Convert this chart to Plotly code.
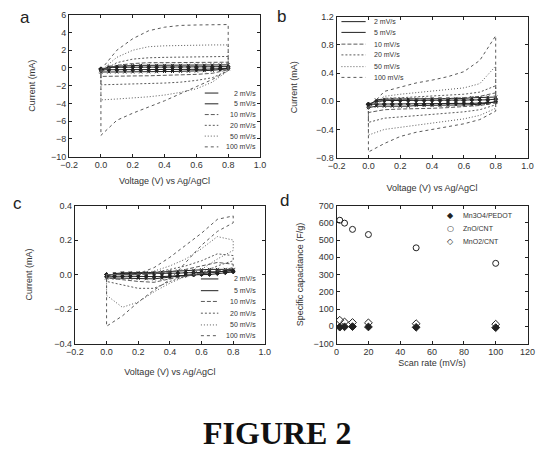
import plotly.graph_objects as go

# ---------------- data ----------------
V = [0.0, 0.1, 0.2, 0.3, 0.4, 0.5, 0.6, 0.7, 0.8]
V_FINE = [0.0, 0.05, 0.1, 0.15, 0.2, 0.25, 0.3, 0.35, 0.4, 0.45, 0.5, 0.55, 0.6, 0.65, 0.7, 0.75, 0.8]
rate_labels = ["2 mV/s", "5 mV/s", "10 mV/s", "20 mV/s", "50 mV/s", "100 mV/s"]

# panel a  (current, mA) - low rates on fine grid
a_up_2 = [-0.1, 0.05, 0.08, 0.1, 0.1, 0.1, 0.1, 0.1, 0.1, 0.1, 0.1, 0.1, 0.1, 0.12, 0.12, 0.14, 0.15]
a_lo_2 = [-0.2, -0.2, -0.2, -0.2, -0.2, -0.2, -0.2, -0.2, -0.2, -0.18, -0.18, -0.16, -0.15, -0.14, -0.12, -0.1, -0.05]
a_up_5 = [-0.3, 0.1, 0.2, 0.25, 0.28, 0.3, 0.3, 0.3, 0.3, 0.3, 0.3, 0.3, 0.32, 0.32, 0.34, 0.35, 0.35]
a_lo_5 = [-0.45, -0.45, -0.45, -0.45, -0.45, -0.44, -0.43, -0.42, -0.4, -0.4, -0.38, -0.36, -0.34, -0.3, -0.26, -0.2, -0.1]
a_up_10 = [-0.4, 0.3, 0.5, 0.6, 0.6, 0.6, 0.62, 0.62, 0.65]
a_lo_10 = [-0.95, -0.92, -0.9, -0.88, -0.85, -0.8, -0.72, -0.6, -0.2]
a_up_20 = [-0.4, 0.6, 1.0, 1.15, 1.2, 1.22, 1.25, 1.25, 1.3]
a_lo_20 = [-1.9, -1.85, -1.8, -1.75, -1.7, -1.6, -1.4, -1.1, -0.3]
a_up_50 = [-0.3, 1.2, 2.0, 2.4, 2.5, 2.55, 2.6, 2.6, 2.6]
a_lo_50 = [-3.6, -3.5, -3.4, -3.25, -3.05, -2.75, -2.35, -1.6, -0.3]
a_up_100 = [-0.2, 2.0, 3.3, 4.2, 4.6, 4.8, 4.85, 4.9, 4.9]
a_lo_100 = [-7.6, -5.9, -5.1, -4.4, -3.7, -2.9, -2.1, -1.3, -0.3]

# panel b (current, mA)
b_up_2 = [-0.04, 0.0, 0.01, 0.01, 0.01, 0.01, 0.01, 0.01, 0.01, 0.01, 0.01, 0.01, 0.01, 0.02, 0.02, 0.02, 0.03]
b_lo_2 = [-0.05, -0.04, -0.04, -0.04, -0.04, -0.04, -0.04, -0.04, -0.04, -0.04, -0.03, -0.03, -0.03, -0.03, -0.03, -0.02, -0.01]
b_up_5 = [-0.07, 0.02, 0.03, 0.03, 0.03, 0.03, 0.03, 0.03, 0.04, 0.04, 0.04, 0.04, 0.04, 0.05, 0.05, 0.06, 0.06]
b_lo_5 = [-0.09, -0.07, -0.07, -0.07, -0.07, -0.07, -0.06, -0.06, -0.06, -0.06, -0.06, -0.05, -0.05, -0.05, -0.04, -0.03, -0.01]
b_up_10 = [-0.08, 0.02, 0.03, 0.03, 0.04, 0.04, 0.05, 0.07, 0.12]
b_lo_10 = [-0.16, -0.12, -0.11, -0.1, -0.1, -0.09, -0.08, -0.06, -0.02]
b_up_20 = [-0.08, 0.04, 0.05, 0.06, 0.07, 0.08, 0.1, 0.13, 0.22]
b_lo_20 = [-0.3, -0.24, -0.22, -0.2, -0.19, -0.17, -0.15, -0.12, -0.05]
b_up_50 = [-0.1, 0.07, 0.1, 0.12, 0.14, 0.16, 0.19, 0.25, 0.5]
b_lo_50 = [-0.48, -0.4, -0.36, -0.33, -0.31, -0.28, -0.25, -0.2, -0.1]
b_up_100 = [-0.1, 0.14, 0.2, 0.26, 0.3, 0.35, 0.42, 0.58, 0.93]
b_lo_100 = [-0.72, -0.6, -0.5, -0.44, -0.4, -0.36, -0.32, -0.26, -0.14]

# panel c (current, mA)
c_up_2 = [0.0, 0.0, 0.005, 0.005, 0.005, 0.005, 0.005, 0.005, 0.005, 0.008, 0.01, 0.01, 0.012, 0.015, 0.015, 0.02, 0.02]
c_lo_2 = [-0.01, -0.01, -0.01, -0.01, -0.01, -0.01, -0.012, -0.012, -0.01, -0.008, -0.005, -0.003, 0.0, 0.0, 0.005, 0.01, 0.015]
c_up_5 = [-0.01, 0.005, 0.01, 0.01, 0.01, 0.01, 0.012, 0.015, 0.018, 0.02, 0.022, 0.025, 0.028, 0.03, 0.03, 0.03, 0.03]
c_lo_5 = [-0.02, -0.02, -0.02, -0.02, -0.022, -0.024, -0.025, -0.022, -0.018, -0.012, -0.006, 0.0, 0.005, 0.01, 0.015, 0.02, 0.025]
c_up_10 = [0.0, 0.0, 0.0, 0.005, 0.015, 0.03, 0.05, 0.07, 0.06]
c_lo_10 = [-0.02, -0.03, -0.04, -0.045, -0.025, -0.01, 0.005, 0.02, 0.04]
c_up_20 = [0.0, 0.0, 0.0, 0.01, 0.03, 0.05, 0.08, 0.12, 0.11]
c_lo_20 = [-0.04, -0.06, -0.08, -0.08, -0.04, -0.01, 0.01, 0.05, 0.08]
c_up_50 = [0.0, 0.0, 0.0, 0.02, 0.05, 0.09, 0.15, 0.22, 0.2]
c_lo_50 = [-0.12, -0.19, -0.16, -0.1, -0.05, -0.01, 0.03, 0.09, 0.14]
c_up_100 = [0.0, 0.0, 0.005, 0.04, 0.1, 0.17, 0.24, 0.32, 0.34]
c_lo_100 = [-0.3, -0.24, -0.16, -0.09, -0.03, 0.07, 0.17, 0.25, 0.3]

# panel d (specific capacitance, F/g)
scan_rates = [2, 5, 10, 20, 50, 100]
d_names = ["Mn3O4/PEDOT", "ZnO/CNT", "MnO2/CNT"]
d_cap_1 = [-5, -3, -2, -4, -6, -8]
d_cap_2 = [615, 598, 562, 532, 455, 365]
d_cap_3 = [35, 25, 22, 20, 15, 12]

# ---------------- styles ----------------
LINE = "#5a5a5a"
INK = "#222222"
dashes = ["solid", "solid", "4px,2px", "2px,2px", "1px,2px", "3px,3px"]
marks = ["diamond", "x-thin", None, None, None, None]
FONT = "Liberation Sans, Arial, sans-serif"

W, H = 552, 462


def px(x):
    return x / W


def py(y):
    return 1 - y / H


fig = go.Figure()

panels = [
    ("x", "y", [a_up_2, a_up_5, a_up_10, a_up_20, a_up_50, a_up_100],
     [a_lo_2, a_lo_5, a_lo_10, a_lo_20, a_lo_50, a_lo_100]),
    ("x2", "y2", [b_up_2, b_up_5, b_up_10, b_up_20, b_up_50, b_up_100],
     [b_lo_2, b_lo_5, b_lo_10, b_lo_20, b_lo_50, b_lo_100]),
    ("x3", "y3", [c_up_2, c_up_5, c_up_10, c_up_20, c_up_50, c_up_100],
     [c_lo_2, c_lo_5, c_lo_10, c_lo_20, c_lo_50, c_lo_100]),
]

for xa, ya, ups, los in panels:
    for i, (up, lo) in enumerate(zip(ups, los)):
        vv = V_FINE if len(up) == len(V_FINE) else V
        xs = list(vv) + list(vv[::-1]) + [vv[0]]
        ys = list(up) + list(lo[::-1]) + [up[0]]
        if marks[i]:
            fig.add_trace(go.Scatter(
                x=xs, y=ys, xaxis=xa, yaxis=ya, mode="lines+markers",
                name=rate_labels[i], showlegend=False,
                line=dict(color=INK, width=1),
                marker=dict(symbol=marks[i], size=3, color=INK,
                            line=dict(color=INK, width=1))))
        else:
            fig.add_trace(go.Scatter(
                x=xs, y=ys, xaxis=xa, yaxis=ya, mode="lines",
                name=rate_labels[i], showlegend=False,
                line=dict(color=LINE, width=1, dash=dashes[i])))

d_series = [d_cap_1, d_cap_2, d_cap_3]
d_symbols = ["diamond", "circle-open", "diamond-open"]
for name, vals, sym in zip(d_names, d_series, d_symbols):
    fig.add_trace(go.Scatter(
        x=scan_rates, y=vals, xaxis="x4", yaxis="y4", mode="markers",
        name=name, showlegend=False,
        marker=dict(symbol=sym, size=6, color=INK, line=dict(color=INK, width=1))))

# ---------------- axes ----------------
boxes = {
    1: (62, 259, 10, 155),
    2: (338, 535, 12, 156),
    3: (68, 264, 205, 346),
    4: (338, 535, 205, 346),
}
x_standoff = {1: 8, 2: 14, 3: 12, 4: 3}
y_standoff = {1: 13, 2: 16, 3: 20, 4: 8}

axis_common = dict(showline=True, linecolor=INK, linewidth=1, mirror="allticks",
                   ticks="inside", ticklen=3, tickcolor=INK, showgrid=False,
                   zeroline=False, tickfont=dict(size=9, color="#333", family=FONT),
                   title_font=dict(size=9, color="#333", family=FONT))

xcfg = {
    1: dict(range=[-0.2, 1.0], dtick=0.2, tickformat=".1f", title_text="Voltage (V) vs Ag/AgCl"),
    2: dict(range=[-0.2, 1.0], dtick=0.2, tickformat=".1f", title_text="Voltage (V) vs Ag/AgCl"),
    3: dict(range=[-0.2, 1.0], dtick=0.2, tickformat=".1f", title_text="Voltage (V) vs Ag/AgCl"),
    4: dict(range=[0, 120], dtick=20, title_text="Scan rate (mV/s)"),
}
ycfg = {
    1: dict(range=[-10, 6], dtick=2, title_text="Current (mA)"),
    2: dict(range=[-0.8, 1.2], dtick=0.4, tickformat=".1f", title_text="Current (mA)"),
    3: dict(range=[-0.4, 0.4], dtick=0.2, tickformat=".1f", title_text="Current (mA)"),
    4: dict(range=[-100, 700], dtick=100, title_text="Specific capacitance (F/g)"),
}

layout = dict(width=W, height=H, margin=dict(l=0, r=0, t=0, b=0),
              paper_bgcolor="white", plot_bgcolor="white", showlegend=False,
              font=dict(family=FONT, color="#333"))
for k, (x0, x1, y0, y1) in boxes.items():
    sfx = "" if k == 1 else str(k)
    layout["xaxis" + sfx] = dict(domain=[px(x0), px(x1)], anchor="y" + sfx,
                                 title_standoff=x_standoff[k], **xcfg[k], **axis_common)
    layout["yaxis" + sfx] = dict(domain=[py(y1), py(y0)], anchor="x" + sfx,
                                 title_standoff=y_standoff[k], **ycfg[k], **axis_common)
fig.update_layout(**layout)

# ---------------- legends (drawn in paper space) ----------------
annotations = []
shapes = []


def legend_rows(ys, x0, x1, tx, anchor):
    for i, yy in enumerate(ys):
        shapes.append(dict(type="line", xref="paper", yref="paper",
                           x0=px(x0), x1=px(x1), y0=py(yy), y1=py(yy),
                           line=dict(color=INK if marks[i] else LINE, width=1, dash=dashes[i])))
        annotations.append(dict(x=px(tx), y=py(yy), xref="paper", yref="paper",
                                text=rate_labels[i], showarrow=False, xanchor=anchor,
                                yanchor="middle", font=dict(size=7, color="#333", family=FONT)))


legend_rows([90, 101, 112, 123, 134, 145], 202, 216, 257, "right")
legend_rows([17, 28, 40, 51, 63, 74], 343, 368, 375, "left")
legend_rows([280, 292, 303, 315, 327, 338], 198, 216, 257, "right")

fig.update_layout(shapes=shapes)

d_leg_y = [215, 228, 242]
d_leg_sym = ["\u25c6", "\u25cb", "\u25c7"]
for yy, s, name in zip(d_leg_y, d_leg_sym, d_names):
    annotations.append(dict(x=px(456), y=py(yy), xref="paper", yref="paper", text=s,
                            showarrow=False, xanchor="center", yanchor="middle",
                            font=dict(size=8, color=INK, family="DejaVu Sans")))
    annotations.append(dict(x=px(466), y=py(yy), xref="paper", yref="paper", text=name,
                            showarrow=False, xanchor="left", yanchor="middle",
                            font=dict(size=7, color="#333", family=FONT)))

for letter, (lx, ly) in zip("abcd", [(16, 13), (281, 12), (9, 203), (284, 200)]):
    annotations.append(dict(x=px(lx), y=py(ly), xref="paper", yref="paper", text=letter,
                            showarrow=False, xanchor="center", yanchor="middle",
                            font=dict(size=17, color=INK, family=FONT)))

annotations.append(dict(x=0.5, y=py(437), xref="paper", yref="paper", text="<b>FIGURE 2</b>",
                        showarrow=False, xanchor="center", yanchor="middle",
                        font=dict(size=32, color="#111", family="Liberation Serif, Times New Roman, serif")))

fig.update_layout(annotations=annotations)

fig.write_html("out.html")
